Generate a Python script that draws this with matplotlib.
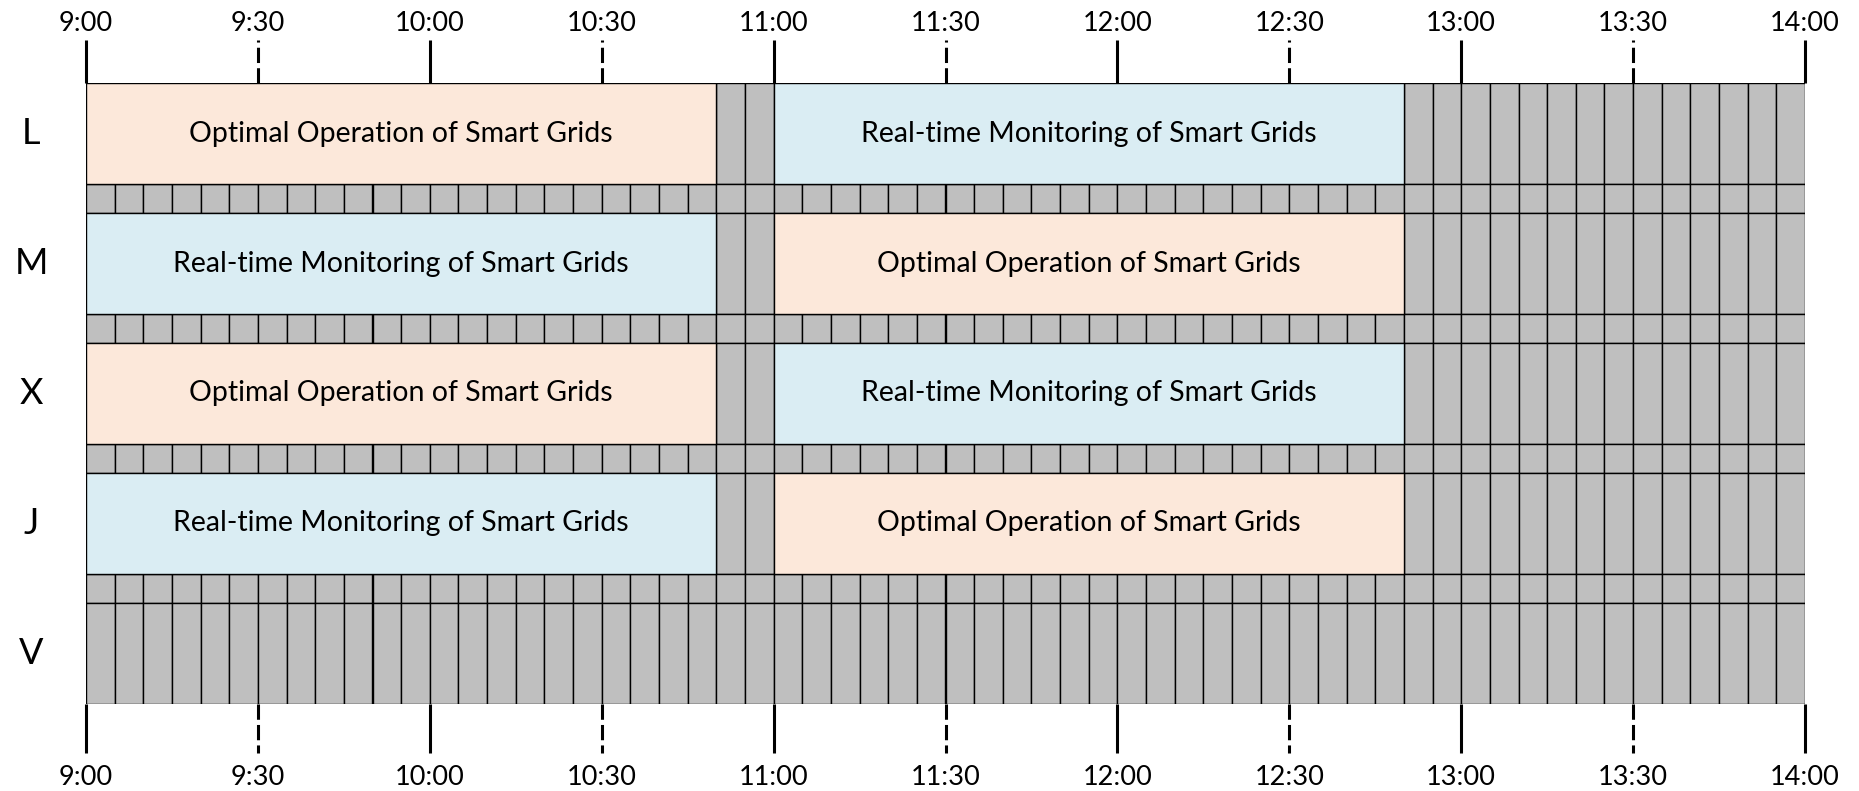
import matplotlib
matplotlib.use("Agg")
import matplotlib.pyplot as plt

plt.rcParams['font.family'] = ['Lato', 'DejaVu Sans']

# timetable data
days = ["L", "M", "X", "J", "V"]
day_start = "9:00"
day_end = "14:00"
slot_minutes = 5

event_days = ["L", "L", "M", "M", "X", "X", "J", "J"]
event_starts = ["9:00", "11:00", "9:00", "11:00", "9:00", "11:00", "9:00", "11:00"]
event_ends = ["10:50", "12:50", "10:50", "12:50", "10:50", "12:50", "10:50", "12:50"]
event_titles = [
    "Optimal Operation of Smart Grids", "Real-time Monitoring of Smart Grids",
    "Real-time Monitoring of Smart Grids", "Optimal Operation of Smart Grids",
    "Optimal Operation of Smart Grids", "Real-time Monitoring of Smart Grids",
    "Real-time Monitoring of Smart Grids", "Optimal Operation of Smart Grids",
]
tick_times = ["9:00", "9:30", "10:00", "10:30", "11:00", "11:30",
              "12:00", "12:30", "13:00", "13:30", "14:00"]

title_colors = {
    "Optimal Operation of Smart Grids": "#FCE8DA",
    "Real-time Monitoring of Smart Grids": "#DAEDF3",
}
free_color = "#BFBFBF"


def to_min(t):
    h, m = t.split(":")
    return int(h) * 60 + int(m)


t0, t1 = to_min(day_start), to_min(day_end)
slots = list(range(t0, t1, slot_minutes))

row_h = 3.5
gap_h = 1.0
total_h = len(days) * row_h + (len(days) - 1) * gap_h

fig = plt.figure(figsize=(18.59, 7.91), dpi=100)
ax = fig.add_axes([86 / 1859, 87 / 791, 1719 / 1859, 621 / 791])
ax.set_xlim(t0, t1)
ax.set_ylim(total_h, 0)
ax.axis("off")

for i, day in enumerate(days):
    top = i * (row_h + gap_h)
    busy = [(to_min(s), to_min(e)) for d, s, e in zip(event_days, event_starts, event_ends) if d == day]
    free = [s for s in slots if not any(a <= s < b for a, b in busy)]
    ax.bar(free, row_h, width=slot_minutes, bottom=top, align="edge",
           color=free_color, edgecolor="black", linewidth=1.0)
    # thin separator row below each day
    if i < len(days) - 1:
        ax.bar(slots, gap_h, width=slot_minutes, bottom=top + row_h, align="edge",
               color=free_color, edgecolor="black", linewidth=1.0)

for d, s, e, title in zip(event_days, event_starts, event_ends, event_titles):
    top = days.index(d) * (row_h + gap_h)
    a, b = to_min(s), to_min(e)
    ax.bar(a, row_h, width=b - a, bottom=top, align="edge",
           color=title_colors[title], edgecolor="black", linewidth=1.0)
    ax.text((a + b) / 2, top + row_h / 2, title, ha="center", va="center", fontsize=20.5)

# day labels
for i, day in enumerate(days):
    ax.text(-55 / 1719, 1 - (i * (row_h + gap_h) + row_h / 2) / total_h, day,
            transform=ax.transAxes, ha="center", va="center", fontsize=26)

# time ticks above and below
xt = ax.get_xaxis_transform()
for t in tick_times:
    x = to_min(t)
    ls = "-" if t.endswith(":00") else (0, (5, 1.7))
    ax.plot([x, x], [1, 1 + 43 / 621], transform=xt, color="black", lw=2.2, ls=ls,
            clip_on=False, solid_capstyle="butt", dash_capstyle="butt")
    ax.plot([x, x], [0, -49 / 621], transform=xt, color="black", lw=2.2, ls=ls,
            clip_on=False, solid_capstyle="butt", dash_capstyle="butt")
    ax.text(x, 1 + 52 / 621, t, transform=xt, ha="center", va="baseline", fontsize=19.5)
    ax.text(x, -81 / 621, t, transform=xt, ha="center", va="baseline", fontsize=19.5)

fig.savefig("out.png", dpi=100)
